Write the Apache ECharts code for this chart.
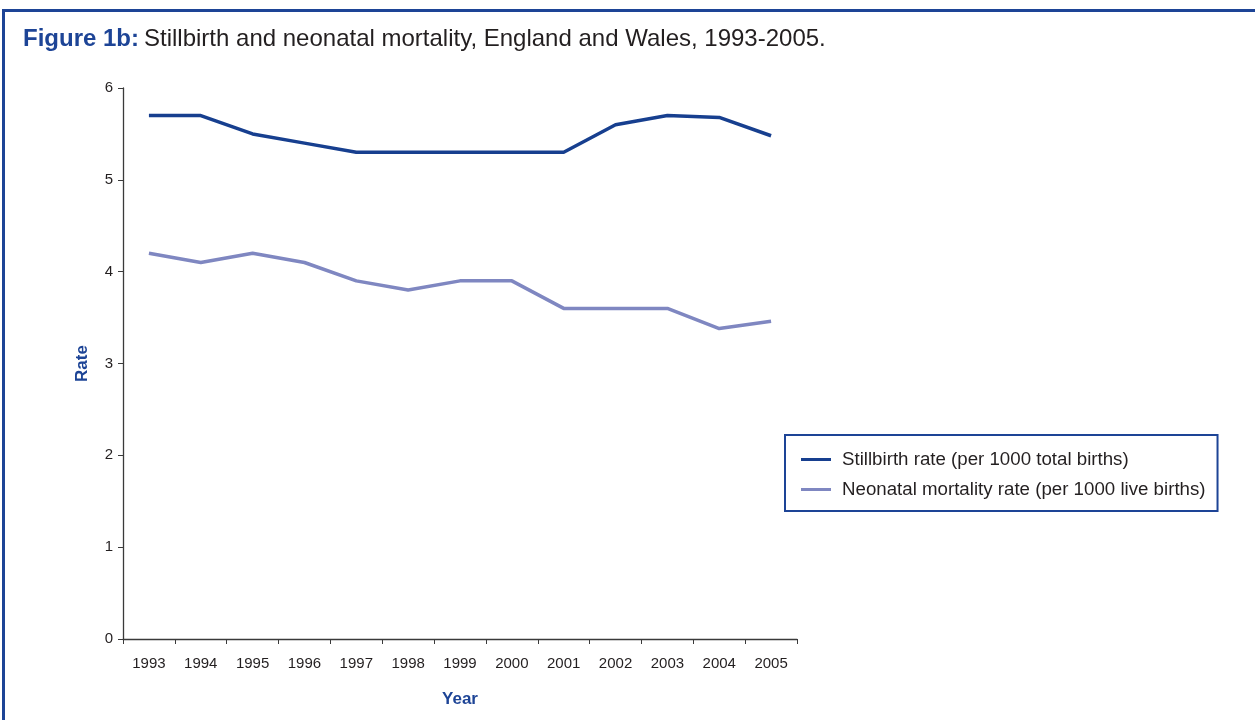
<!DOCTYPE html>
<html>
<head>
<meta charset="utf-8">
<script src="https://cdn.jsdelivr.net/npm/echarts@6/dist/echarts.min.js"></script>
<style>
html,body{margin:0;padding:0;background:#fff;}
#frame{position:absolute;left:2px;top:9px;width:1300px;height:800px;border-top:3px solid #1d4496;border-left:3px solid #1d4496;}
#chart{position:absolute;left:0;top:0;width:1255px;height:720px;}
</style>
</head>
<body>
<div id="frame"></div>
<div id="chart"></div>
<script>
const years = ['1993','1994','1995','1996','1997','1998','1999','2000','2001','2002','2003','2004','2005'];
const stillbirth = [5.7,5.7,5.5,5.4,5.3,5.3,5.3,5.3,5.3,5.6,5.7,5.68,5.48];
const neonatal = [4.2,4.1,4.2,4.1,3.9,3.8,3.9,3.9,3.6,3.6,3.6,3.38,3.46];
const seriesNames = ['Stillbirth rate (per 1000 total births)','Neonatal mortality rate (per 1000 live births)'];

const chart = echarts.init(document.getElementById('chart'), null, {renderer:'canvas'});
chart.setOption({
  animation:false,
  textStyle:{fontFamily:'Liberation Sans, Arial, sans-serif'},
  title:{
    left:18, top:22,
    text:'{b|Figure 1b:} {n|Stillbirth and neonatal mortality, England and Wales, 1993-2005.}',
    textStyle:{
      rich:{
        b:{fontSize:24,fontWeight:'bold',color:'#1d4496',fontFamily:'Liberation Sans, Arial, sans-serif'},
        n:{fontSize:24,fontWeight:'normal',color:'#231f20',fontFamily:'Liberation Sans, Arial, sans-serif'}
      }
    }
  },
  grid:{left:123,right:458,top:88,bottom:81,containLabel:false},
  legend:{
    orient:'vertical',
    left:785, top:435,
    padding:[15,12,12,16],
    borderColor:'#1d4496', borderWidth:2,
    itemGap:11,
    itemWidth:30, itemHeight:3,
    icon:'rect',
    textStyle:{fontSize:18.7,color:'#231f20',padding:[0,0,0,6]},
    data:seriesNames
  },
  xAxis:{
    type:'category', data:years, boundaryGap:true,
    name:'Year', nameLocation:'middle', nameGap:52,
    nameTextStyle:{fontSize:17,fontWeight:'bold',color:'#1d4496'},
    axisLine:{lineStyle:{color:'#3a3a3a',width:1.3}},
    axisTick:{show:true,alignWithLabel:false,length:5,lineStyle:{color:'#3a3a3a'}},
    axisLabel:{fontSize:15,color:'#231f20',margin:17}
  },
  yAxis:{
    type:'value', min:0, max:6, interval:1,
    name:'Rate', nameLocation:'middle', nameGap:32,
    nameTextStyle:{fontSize:17,fontWeight:'bold',color:'#1d4496'},
    axisLine:{show:true,lineStyle:{color:'#3a3a3a',width:1.3}},
    axisTick:{show:true,length:5,lineStyle:{color:'#3a3a3a'}},
    axisLabel:{fontSize:15,color:'#231f20',margin:10},
    splitLine:{show:false}
  },
  series:[
    {name:seriesNames[0],type:'line',data:stillbirth,symbol:'none',
     lineStyle:{color:'#173f8f',width:3.5},itemStyle:{color:'#173f8f'}},
    {name:seriesNames[1],type:'line',data:neonatal,symbol:'none',
     lineStyle:{color:'#7f87c1',width:3.5},itemStyle:{color:'#7f87c1'}}
  ]
});
</script>
</body>
</html>
